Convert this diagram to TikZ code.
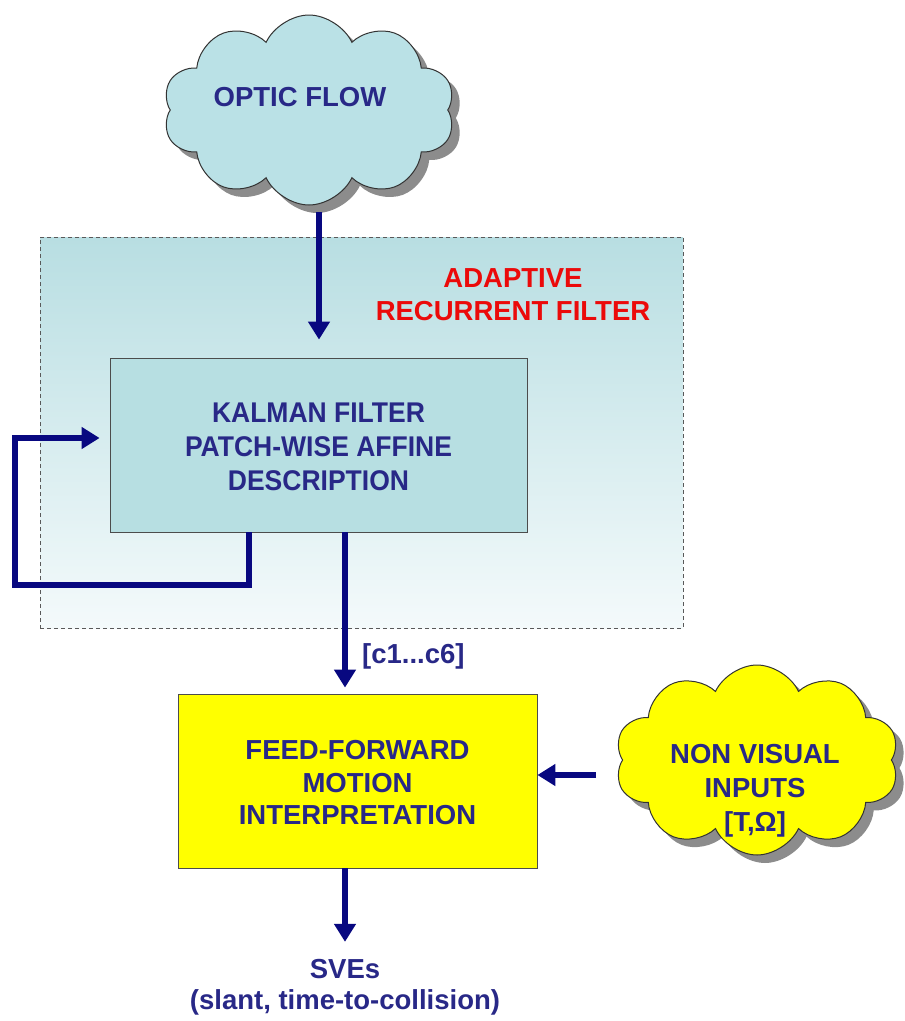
\documentclass[tikz,border=0pt]{standalone}
\usepackage{fontspec}
\setmainfont{Liberation Sans}
\newfontfamily\narrowsans{Liberation Sans}[FakeStretch=0.93]
\usetikzlibrary{arrows.meta,shapes.symbols,shadows,calc}
\definecolor{navytext}{RGB}{40,40,135}
\definecolor{navyline}{RGB}{8,8,128}
\definecolor{tealtop}{RGB}{184,222,226}
\definecolor{tealbot}{RGB}{244,250,251}
\definecolor{kalfill}{RGB}{183,223,226}
\definecolor{cloudblue}{RGB}{186,225,230}
\definecolor{redtext}{RGB}{235,10,10}
\definecolor{pureyellow}{RGB}{255,255,0}
\tikzset{
  txt/.style={font=\fontsize{27.5}{34}\selectfont\bfseries, text=navytext, align=center, inner sep=0pt},
  redtxt/.style={font=\fontsize{27.5}{33}\selectfont\bfseries, text=redtext, align=center, inner sep=0pt},
  arr/.style={draw=navyline, line width=6pt, -{Triangle[width=21pt,length=18pt]}},
  loopline/.style={draw=navyline, line width=5.5pt, line join=miter},
  cloudnode/.style={cloud, cloud puffs=10, cloud puff arc=130, aspect=1.5, draw=black!80, line width=1pt, inner sep=0pt,
     drop shadow={shadow xshift=8pt, shadow yshift=-8pt, fill=black!45, opacity=1}},
  boxnode/.style={draw=black!70, line width=0.8pt, inner sep=0pt}
}
\begin{document}
\begin{tikzpicture}[x=1pt,y=-1pt]
\useasboundingbox (0,0) rectangle (905,1021);
% dashed region
\node[draw=black!65, dash pattern=on 4pt off 3pt, line width=0.7pt, top color=tealtop, bottom color=tealbot,
      minimum width=643pt, minimum height=391pt, inner sep=0pt] (adapt) at (361.5,432.5) {};
\node[redtxt] (adaptlbl) at (513,295) {ADAPTIVE\\RECURRENT FILTER};
% clouds
\node[cloudnode, fill=cloudblue, minimum width=292pt, minimum height=190pt] (optic) at (309,110) {};
\node[txt] (optictxt) at (300,97) {OPTIC FLOW};
\node[cloudnode, fill=pureyellow, minimum width=284pt, minimum height=190pt] (nv) at (757,760) {};
\node[txt] (nvtxt) at (755,791) {NON VISUAL\\INPUTS\\{}[T,Ω]};
% boxes
\node[boxnode, fill=kalfill, minimum width=417pt, minimum height=174pt] (kalman) at (318.5,445) {};
\node[txt, font=\fontsize{28.5}{34}\selectfont\narrowsans\bfseries] (kaltxt) at (318.5,447) {KALMAN FILTER\\PATCH-WISE AFFINE\\DESCRIPTION};
\node[boxnode, fill=pureyellow, minimum width=359pt, minimum height=174pt] (ff) at (357.5,781) {};
\node[txt, font=\fontsize{27.5}{32.5}\selectfont\bfseries] (fftxt) at (357.5,783) {FEED-FORWARD\\MOTION\\INTERPRETATION};
\node[txt, font=\fontsize{27.5}{31}\selectfont\bfseries] (sves) at (345,987) {SVEs\\(slant, time-to-collision)};
\node[txt, anchor=west] (clbl) at (362,656) {[c1...c6]};
% helper coordinates
\coordinate (ostart) at ($(optic.center)+(10,102)$);
\coordinate (cx) at (345,0);
\coordinate (fbx) at (249,0);
\coordinate (fbcorner) at (15,585);
\coordinate (fby) at (0,438);
\coordinate (ay) at (0,775);
\coordinate (nvtail) at ($(nv.center)+(-161,15)$);
% connectors
\draw[arr, shorten >=18pt] (ostart) -- (kalman.north -| ostart);
\draw[arr, shorten >=6pt] (kalman.south -| cx) -- (ff.north -| cx);
\draw[arr, shorten >=17pt] (ff.south -| cx) -- (sves.north -| cx);
\draw[arr] (nvtail) -- (ff.east |- nvtail);
\draw[loopline, -{Triangle[width=21pt,length=18pt]}, shorten >=10pt] (kalman.south -| fbx) |- (fbcorner) |- (kalman.west |- fby);
\end{tikzpicture}
\end{document}
